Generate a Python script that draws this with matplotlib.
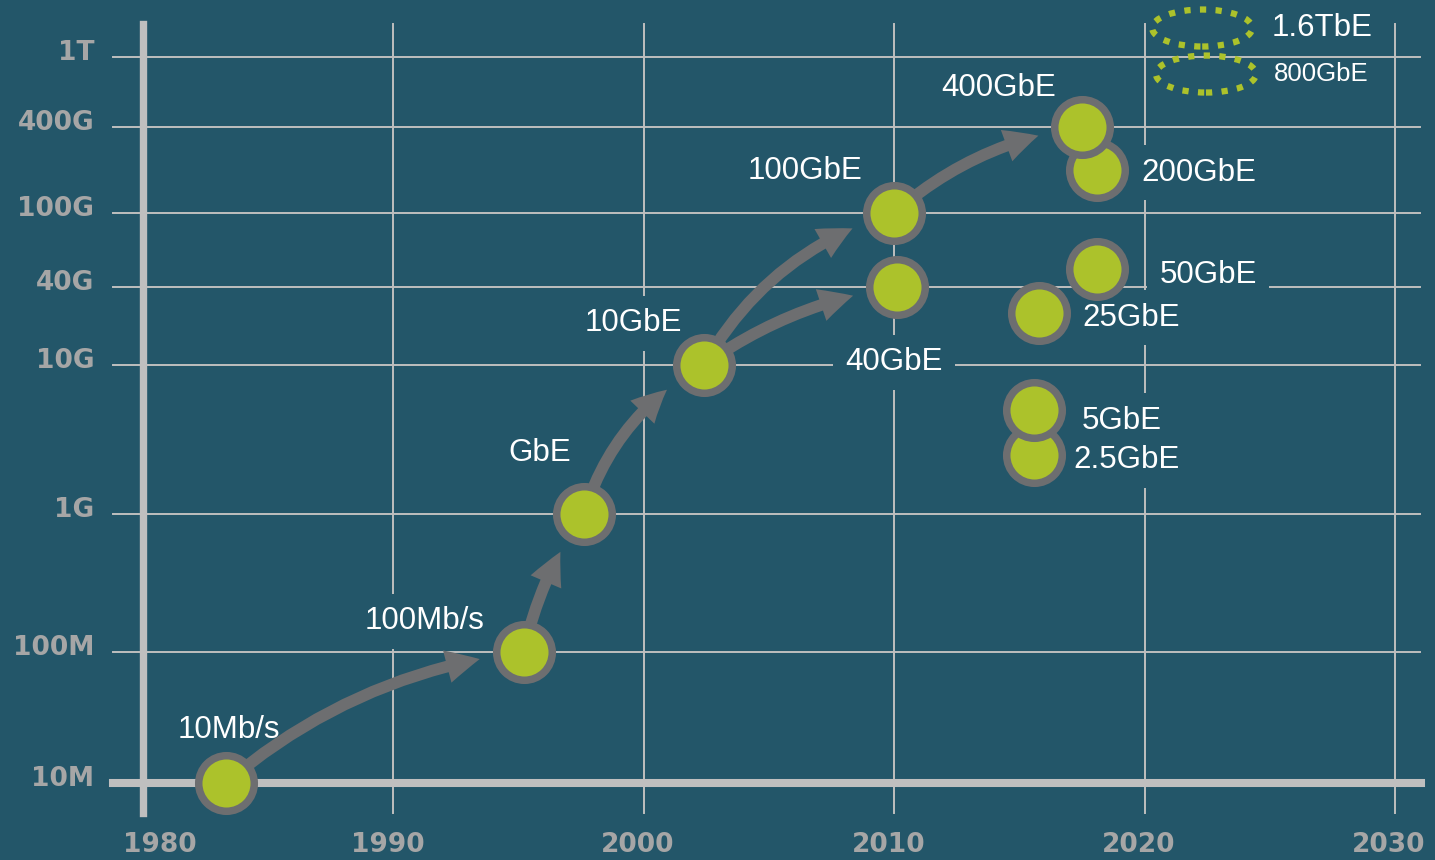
import numpy as np
import matplotlib
matplotlib.use("Agg")
import matplotlib.pyplot as plt
from matplotlib.patches import FancyArrowPatch, Ellipse
from matplotlib.transforms import ScaledTranslation

# ethernet speeds: year the standard came out, rate in bit/s
names = ["10Mb/s", "100Mb/s", "GbE", "10GbE", "40GbE", "100GbE",
         "200GbE", "400GbE", "50GbE", "25GbE", "2.5GbE", "5GbE"]
years = [1983.3, 1995.2, 1997.6, 2002.4, 2010.1, 2010.0,
         2018.1, 2017.5, 2018.1, 2015.8, 2015.6, 2015.6]
rates = [10e6, 100e6, 1e9, 10e9, 40e9, 100e9,
         200e9, 400e9, 50e9, 25e9, 2.5e9, 5e9]

# still in the works
planned_names = ["1.6TbE", "800GbE"]
planned_years = [2022.3, 2022.45]
planned_rates = [1.6e12, 800e9]

tick_rates = [1e7, 1e8, 1e9, 1e10, 4e10, 1e11, 4e11, 1e12]
tick_labels = ["10M", "100M", "1G", "10G", "40G", "100G", "400G", "1T"]
year_ticks = [1980, 1990, 2000, 2010, 2020, 2030]

# arrows between speeds (index into names)
arrows = [(0, 1), (1, 2), (2, 3), (3, 5), (3, 4), (5, 7)]

# --- styling ---
BG = "#235669"
GRID = "#bfbfbf"
TICK = "#a6a6a6"
GREEN = "#acc22b"
GRAY = "#6d6e70"

label_offsets = [(2, 38), (-71, 22), (-32, 44), (-51, 30), (-2, -54), (-64, 30),
                 (73, -2), (-60, 28), (80, -4), (66, -3), (66, -4), (63, -8)]
planned_offsets = [(86, 0), (83, 0)]
planned_fontsizes = [22.5, 18.5]
arrow_rads = [-0.15, -0.1, -0.2, -0.2, -0.12, -0.15]

# the slide's y axis is only roughly logarithmic, so use a piecewise log scale
node_log = np.log10([1e6, 1e7, 1e8, 1e9, 1e10, 4e10, 1e11, 4e11, 1e12, 1e13])
node_pos = np.array([-131, 0, 131, 269, 418, 496, 570, 656, 726, 868], dtype=float)


def fwd(v):
    v = np.clip(np.asarray(v, dtype=float), 1e-300, None)
    return np.interp(np.log10(v), node_log, node_pos)


def inv(u):
    return 10 ** np.interp(np.asarray(u, dtype=float), node_pos, node_log)


def main():
    fig = plt.figure(figsize=(14.35, 8.6), dpi=100, facecolor=BG)
    ax = fig.add_axes([0, 0, 1, 1], facecolor=BG)
    ax.set_yscale("function", functions=(fwd, inv))
    for s in ax.spines.values():
        s.set_visible(False)

    # grid (only over part of the axes, like the slide)
    for r in tick_rates[1:]:
        ax.axhline(r, 0.0787, 0.9895, color=GRID, lw=1.4, zorder=1)
    for yr in year_ticks[1:]:
        ax.axvline(yr, 0.0547, 0.972, color=GRID, lw=1.4, zorder=1)
    ax.axhline(tick_rates[0], 0.0787, 0.990, color=GRID, lw=5.8, zorder=2)
    ax.axvline(year_ticks[0], 0.0547, 0.972, color=GRID, lw=5.3, zorder=2)

    # labels: a box in the background colour cuts the grid, text goes on top
    box = dict(boxstyle="square,pad=0.4", fc=BG, ec="none")
    for name, x, y, off in zip(names, years, rates, label_offsets):
        kw = dict(xytext=off, textcoords="offset points", ha="center", va="center",
                  fontsize=22.5, family="Liberation Sans")
        ax.annotate(name, (x, y), color=BG, alpha=1, bbox=box, zorder=2.5, **kw)
        ax.annotate(name, (x, y), color="white", zorder=3, **kw)

    for (a, b), rad in zip(arrows, arrow_rads):
        arr = FancyArrowPatch((years[a], rates[a]), (years[b], rates[b]),
                              arrowstyle="simple,head_width=0.6,head_length=0.6,tail_width=0.21",
                              connectionstyle=f"arc3,rad={rad}", mutation_scale=40,
                              shrinkA=0, shrinkB=32, fc=GRAY, ec="none", lw=0, zorder=4)
        ax.add_patch(arr)

    ax.scatter(years, rates, s=40 ** 2, c=GREEN, edgecolors=GRAY, linewidths=5.4, zorder=5)

    for name, x, y, off, fs in zip(planned_names, planned_years, planned_rates,
                                   planned_offsets, planned_fontsizes):
        tr = fig.dpi_scale_trans + ScaledTranslation(x, y, ax.transData)
        ell = Ellipse((0, 0), 1.0, 0.37, transform=tr, fill=False, ec=GREEN,
                      lw=4.5, ls=(0, (1, 1.5)), zorder=5)
        ell.set_capstyle("butt")
        ax.add_patch(ell)
        ax.annotate(name, (x, y), xytext=off, textcoords="offset points",
                    ha="center", va="center", fontsize=fs,
                    color="white", family="Liberation Sans", zorder=3)

    ax.set_xlim(1980 - 143 / 25.04, 2030 + 40 / 25.04)
    ax.set_ylim(inv(-77), inv(783))

    tick_font = dict(fontweight="bold", family="DejaVu Sans")
    ax.set_yticks(tick_rates, tick_labels, va="baseline", **tick_font)
    ax.set_xticks(year_ticks, [str(y) for y in year_ticks], **tick_font)
    ax.minorticks_off()
    ax.tick_params(axis="y", length=0, pad=-68, labelsize=19, labelcolor=TICK)
    ax.tick_params(axis="x", length=0, pad=-20, labelsize=19, labelcolor=TICK)

    # nudge: y labels a bit lower, x labels a bit left, the 1980 one right of the axis
    down = ScaledTranslation(0, -3 / 100, fig.dpi_scale_trans)
    for t in ax.get_yticklabels():
        t.set_transform(t.get_transform() + down)
    xl = ax.get_xticklabels()
    for i, t in enumerate(xl):
        dx = 17 if i == 0 else -6
        t.set_transform(t.get_transform() + ScaledTranslation(dx / 100, 0, fig.dpi_scale_trans))

    fig.savefig("out.png", dpi=100, facecolor=BG)


if __name__ == "__main__":
    main()
